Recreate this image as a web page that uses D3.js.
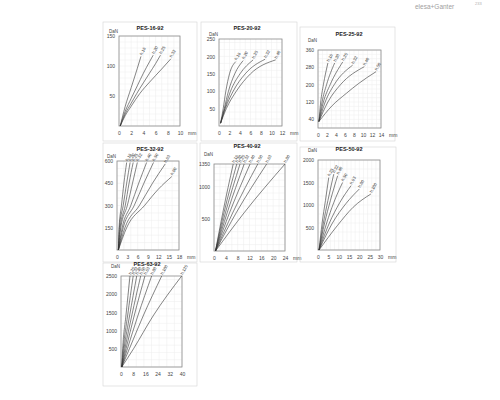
<!DOCTYPE html>
<html>
<head>
<meta charset="utf-8">
<script src="https://cdn.jsdelivr.net/npm/d3@7"></script>
<style>
  body { margin: 0; background: #fff; }
  svg { font-family: "Liberation Sans", Arial, sans-serif; }
</style>
</head>
<body>
<div id="chart"></div>
<script>
// ---- data ----
var titles = ["PES-16-92", "PES-20-92", "PES-25-92", "PES-32-92", "PES-40-92", "PES-50-92", "PES-63-92"];
var xMax = [10, 12, 14, 18, 24, 30, 40];
var yMax = [150, 250, 360, 600, 1350, 2000, 2500];
var xTicks = [
  [0, 2, 4, 6, 8, 10],
  [0, 2, 4, 6, 8, 10, 12],
  [0, 2, 4, 6, 8, 10, 12, 14],
  [0, 3, 6, 9, 12, 15, 18],
  [0, 4, 8, 12, 16, 20, 24],
  [0, 5, 10, 15, 20, 25, 30],
  [0, 8, 16, 24, 32, 40]
];
var yTicks = [
  [50, 100, 150],
  [50, 100, 150, 200, 250],
  [40, 120, 200, 280, 360],
  [150, 300, 450, 600],
  [500, 1000, 1350],
  [500, 1000, 1500, 2000],
  [500, 1000, 1500, 2000, 2500]
];
var showMM = [true, true, true, true, true, true, false];
var curveLabels = [
  ["h.16", "h.20", "h.25", "h.32"],
  ["h.16", "h.20", "h.25", "h.32", "h.40"],
  ["h.16", "h.20", "h.25", "h.32", "h.40", "h.50"],
  ["h.16", "h.20", "h.25", "h.32", "h.40", "h.50", "h.63", "h.80"],
  ["h.16", "h.20", "h.25", "h.32", "h.40", "h.50", "h.63", "h.80"],
  ["h.25", "h.32", "h.40", "h.50", "h.63", "h.80", "h.100"],
  ["h.25", "h.32", "h.40", "h.50", "h.63", "h.80", "h.100", "h.125"]
];
// deflection (mm), load (DaN)
var curves16 = [
  [[0.2,0],[1,32],[2,64],[3,96],[3.6,116]],
  [[0.2,0],[1,24],[2,46],[3,67],[4,88],[5,107],[5.6,118]],
  [[0.2,0],[1,20],[2,38],[2.9,54],[4,72],[5,88],[6,104],[6.8,118]],
  [[0.2,0],[1,17],[2,33],[3.4,54],[5,73],[7,95],[8.5,112]]
];
var curves20 = [
  [[0.3,8],[0.8,50],[1.3,100],[2.0,150],[3.2,185]],
  [[0.3,8],[1.0,50],[1.8,100],[3.0,150],[4.6,188]],
  [[0.3,8],[1.1,50],[2.2,100],[4.0,150],[6.5,190]],
  [[0.3,8],[1.2,50],[2.7,100],[5.0,150],[8.8,192]],
  [[0.3,8],[1.4,50],[3.3,100],[6.0,150],[10.8,190]]
];
var curves25 = [
  [[0.2,30],[0.6,120],[1.2,200],[2.2,300]],
  [[0.2,30],[0.9,120],[1.9,200],[3.7,300]],
  [[0.2,30],[1.2,120],[2.7,200],[5.5,305]],
  [[0.2,30],[1.6,120],[3.6,200],[7.7,290]],
  [[0.2,30],[2.2,120],[5.0,200],[10.3,283]],
  [[0.2,30],[3.0,100],[6.3,160],[9.0,205],[12.9,260]]
];
var curves32 = [
  [[0.4,0],[0.6,150],[1.3,300],[2.0,450],[2.8,590]],
  [[0.4,0],[0.7,150],[1.8,300],[2.8,450],[3.8,590]],
  [[0.4,0],[0.9,150],[2.4,300],[3.5,450],[4.7,590]],
  [[0.4,0],[1.1,150],[3.0,300],[4.5,450],[5.9,590]],
  [[0.4,0],[1.5,150],[4.0,300],[6.3,450],[8.6,590]],
  [[0.4,0],[1.8,150],[5.0,300],[7.8,450],[10.6,590]],
  [[0.4,0],[2.3,150],[6.5,300],[10.3,450],[14.0,580]],
  [[0.4,0],[2.8,150],[8.0,300],[12.0,410],[15.9,495]]
];
var curves40 = [
  [[0.5,0],[3.0,600],[6.5,1350]],
  [[0.5,0],[3.4,600],[7.7,1350]],
  [[0.5,0],[3.9,600],[8.8,1350]],
  [[0.5,0],[4.5,600],[10.2,1350]],
  [[0.5,0],[5.3,600],[12.2,1350]],
  [[0.5,0],[6.4,600],[14.8,1350]],
  [[0.5,0],[7.6,600],[17.8,1350]],
  [[0.5,0],[10.3,600],[24,1350]]
];
var curves50 = [
  [[0.5,0],[2.0,600],[3.6,1100],[5.2,1610]],
  [[0.5,0],[2.6,600],[4.8,1100],[7.6,1685]],
  [[0.5,0],[3.2,600],[6.0,1100],[9.5,1650]],
  [[0.5,0],[4.2,600],[7.6,1050],[11.9,1500]],
  [[0.5,0],[5.5,600],[10.5,1050],[16,1430]],
  [[0.5,0],[7.0,600],[13.5,1030],[20,1355]],
  [[0.5,0],[9.5,550],[17,950],[25.6,1245]]
];
var curves63 = [
  [[0.5,0],[1.1,500],[3.2,1400],[5.9,2500]],
  [[0.5,0],[1.5,500],[4.3,1400],[8.0,2500]],
  [[0.5,0],[2.0,500],[5.6,1400],[10.3,2500]],
  [[0.5,0],[2.6,500],[7.0,1400],[12.9,2500]],
  [[0.5,0],[3.3,500],[8.6,1400],[15.7,2500]],
  [[0.5,0],[4.2,500],[11.0,1400],[20.1,2500]],
  [[0.5,0],[5.5,500],[14.5,1400],[26.7,2500]],
  [[0.5,0],[8.2,500],[21,1400],[39.8,2500]]
];
var allCurves = [curves16, curves20, curves25, curves32, curves40, curves50, curves63];

// ---- layout: outer frame and plot box of each panel ----
var frames = [
  {x: 103, y: 22, w: 94, h: 119},
  {x: 201, y: 22, w: 96, h: 119},
  {x: 300, y: 27, w: 95, h: 114},
  {x: 103, y: 143, w: 94, h: 119},
  {x: 200, y: 143, w: 97, h: 119},
  {x: 300, y: 147, w: 96, h: 115},
  {x: 103, y: 263, w: 94, h: 123}
];
var plots = [
  {x0: 119, x1: 180, y0: 36, y1: 126, tx: 150, ty: 30},
  {x0: 219, x1: 282, y0: 39, y1: 126, tx: 247, ty: 30},
  {x0: 318, x1: 381, y0: 50, y1: 128, tx: 349, ty: 36},
  {x0: 117, x1: 179, y0: 161, y1: 250, tx: 150, ty: 151},
  {x0: 214, x1: 285, y0: 164, y1: 251, tx: 247, ty: 148},
  {x0: 318, x1: 380, y0: 160, y1: 250, tx: 349, ty: 151},
  {x0: 121, x1: 182, y0: 276, y1: 367, tx: 147, ty: 266}
];

var svg = d3.select("#chart")
  .append("svg")
  .attr("width", 500)
  .attr("height", 400);

// brand mark top right
svg.append("text")
  .attr("x", 415).attr("y", 9)
  .style("font-size", "6.5px")
  .style("fill", "#a0a0a0")
  .text("elesa+Ganter");
svg.append("text")
  .attr("x", 475).attr("y", 5)
  .style("font-size", "4px")
  .style("fill", "#b0b0b0")
  .text("233");

titles.forEach(function(title, i) {
  var f = frames[i], p = plots[i];

  svg.append("rect")
    .attr("x", f.x).attr("y", f.y)
    .attr("width", f.w).attr("height", f.h)
    .style("fill", "none")
    .style("stroke", "#d4d4d4")
    .style("stroke-width", 0.6);

  var xScale = d3.scaleLinear().domain([0, xMax[i]]).range([p.x0, p.x1]);
  var yScale = d3.scaleLinear().domain([0, yMax[i]]).range([p.y1, p.y0]);

  var g = svg.append("g");

  // light grid
  g.selectAll(".gx")
    .data(xScale.ticks(10))
    .enter().append("line")
    .attr("x1", function(d) { return xScale(d); })
    .attr("x2", function(d) { return xScale(d); })
    .attr("y1", p.y0).attr("y2", p.y1)
    .style("stroke", "#ececec").style("stroke-width", 0.5);
  g.selectAll(".gy")
    .data(yScale.ticks(12))
    .enter().append("line")
    .attr("y1", function(d) { return yScale(d); })
    .attr("y2", function(d) { return yScale(d); })
    .attr("x1", p.x0).attr("x2", p.x1)
    .style("stroke", "#ececec").style("stroke-width", 0.5);

  g.append("rect")
    .attr("x", p.x0).attr("y", p.y0)
    .attr("width", p.x1 - p.x0).attr("height", p.y1 - p.y0)
    .style("fill", "none")
    .style("stroke", "#8a8a8a")
    .style("stroke-width", 0.8);

  // axes
  var xAxis = d3.axisBottom(xScale).tickValues(xTicks[i]).tickSize(0).tickPadding(5).tickFormat(d3.format("d"));
  var yAxis = d3.axisLeft(yScale).tickValues(yTicks[i]).tickSize(0).tickPadding(4).tickFormat(d3.format("d"));

  var gx = g.append("g").attr("transform", "translate(0," + p.y1 + ")").call(xAxis);
  var gy = g.append("g").attr("transform", "translate(" + p.x0 + ",0)").call(yAxis);
  [gx, gy].forEach(function(a) {
    a.select(".domain").remove();
    a.selectAll("text").style("font-size", "5px").style("fill", "#444").style("font-family", "Liberation Sans, Arial, sans-serif");
  });

  if (showMM[i]) {
    g.append("text")
      .attr("x", p.x1 + 8).attr("y", p.y1 + 8.5)
      .style("font-size", "5px").style("fill", "#444")
      .text("mm");
  }
  g.append("text")
    .attr("x", p.x0 - 10).attr("y", p.y0 - (i == 0 || i == 3 || i == 1 ? 3 : 8))
    .style("font-size", "4.5px").style("fill", "#444")
    .attr("text-anchor", "start")
    .text("DaN");

  g.append("text")
    .attr("x", p.tx).attr("y", p.ty)
    .attr("text-anchor", "middle")
    .style("font-size", "5.5px").style("font-weight", "bold").style("fill", "#222")
    .text(title);

  var line = d3.line()
    .x(function(d) { return xScale(d[0]); })
    .y(function(d) { return yScale(d[1]); })
    .curve(d3.curveMonotoneX);

  g.selectAll(".curve")
    .data(allCurves[i])
    .enter().append("path")
    .attr("d", line)
    .style("fill", "none")
    .style("stroke", "#333")
    .style("stroke-width", 0.6);

  g.selectAll(".clab")
    .data(allCurves[i])
    .enter().append("text")
    .attr("transform", function(d) {
      var e = d[d.length - 1];
      return "translate(" + (xScale(e[0]) + 1) + "," + (yScale(e[1]) - 1) + ") rotate(-60)";
    })
    .style("font-size", "4.2px").style("fill", "#333")
    .text(function(d, k) { return curveLabels[i][k]; });
});
</script>
</body>
</html>
